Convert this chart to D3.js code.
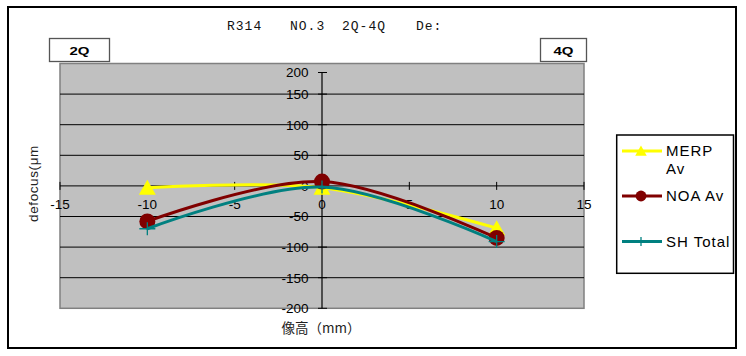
<!DOCTYPE html>
<html>
<head>
<meta charset="utf-8">
<script src="https://cdn.jsdelivr.net/npm/d3@7"></script>
<style>
  html, body { margin: 0; padding: 0; background: #fff; }
  svg { display: block; }
</style>
</head>
<body>
<svg id="chart" width="746" height="356"></svg>
<script>
// ---- data ----
const xValues = [-10, 0, 10];
const merpAv = [-3, -3, -69];
const noaAv = [-58, 7, -85];
const shTotal = [-70, -2, -91];
const seriesNames = ["MERP Av", "NOA Av", "SH Total"];
const xTicks = [-15, -10, -5, 0, 5, 10, 15];
const yTicks = [200, 150, 100, 50, 0, -50, -100, -150, -200];
const titleParts = ["R314", "NO.3", "2Q-4Q", "De:"];
const quadrantLabels = ["2Q", "4Q"];

const svg = d3.select("#chart");
const font = "'Liberation Sans', Arial, sans-serif";

// outer border
svg.append("rect").attr("x", 8).attr("y", 7).attr("width", 728).attr("height", 341)
  .attr("fill", "#fff").attr("stroke", "#000").attr("stroke-width", 2);

const x = d3.scaleLinear().domain([-15, 15]).range([60, 584]);
const y = d3.scaleLinear().domain([-200, 200]).range([308.3, 63.5]);
const x0 = x(0), y0 = y(0);
const topShift = 9; // top tick of the value axis sits a little below the plot top

// plot area
svg.append("rect").attr("x", x(-15)).attr("y", y(200)).attr("width", x(15) - x(-15))
  .attr("height", y(-200) - y(200)).attr("fill", "#c0c0c0").attr("stroke", "#808080").attr("stroke-width", 1.5);

const tickY = v => v === 200 ? y(v) + topShift : y(v);

// y tick labels (under gridlines)
svg.append("g").selectAll("text").data(yTicks).join("text")
  .attr("x", x0 - 13.5).attr("y", d => tickY(d) + 4.8)
  .attr("text-anchor", "end").attr("font-family", font).attr("font-size", 13.5)
  .attr("fill", "#000").text(d => d);

// gridlines
svg.append("g").selectAll("line").data(yTicks.filter(v => v !== 200 && v !== -200 && v !== 0)).join("line")
  .attr("x1", x(-15)).attr("x2", x(15)).attr("y1", d => y(d)).attr("y2", d => y(d))
  .attr("stroke", "#000").attr("stroke-width", 1);

// x axis line at y=0
svg.append("line").attr("x1", x(-15)).attr("x2", x(15)).attr("y1", y0).attr("y2", y0)
  .attr("stroke", "#000").attr("stroke-width", 1);
svg.append("g").selectAll("line").data(xTicks).join("line")
  .attr("x1", d => x(d)).attr("x2", d => x(d)).attr("y1", y0 - 4).attr("y2", y0 + 4)
  .attr("stroke", "#000").attr("stroke-width", 1);

// y axis line at x=0
svg.append("line").attr("x1", x0).attr("x2", x0).attr("y1", tickY(200)).attr("y2", y(-200))
  .attr("stroke", "#000").attr("stroke-width", 1.2);
svg.append("g").selectAll("line").data(yTicks).join("line")
  .attr("x1", x0 - 4).attr("x2", x0 + 5).attr("y1", d => tickY(d)).attr("y2", d => tickY(d))
  .attr("stroke", "#000").attr("stroke-width", 1);

// x tick labels
svg.append("g").selectAll("text").data(xTicks).join("text")
  .attr("x", d => x(d)).attr("y", y0 + 23)
  .attr("text-anchor", "middle").attr("font-family", font).attr("font-size", 13.5)
  .attr("fill", "#000").text(d => d);

// series
const series = [
  { name: seriesNames[0], values: merpAv, color: "#ffff00", marker: "triangle" },
  { name: seriesNames[1], values: noaAv, color: "#800000", marker: "circle" },
  { name: seriesNames[2], values: shTotal, color: "#008080", marker: "plus" }
];
const line = d3.line().x(d => x(d[0])).y(d => y(d[1])).curve(d3.curveCardinal.tension(0));

function drawMarker(g, type, cx, cy, color, s) {
  if (type === "triangle") {
    g.append("path").attr("d", `M${cx},${cy - 8 * s}L${cx + 8.5 * s},${cy + 7 * s}L${cx - 8.5 * s},${cy + 7 * s}Z`)
      .attr("fill", color);
  } else if (type === "circle") {
    g.append("circle").attr("cx", cx).attr("cy", cy).attr("r", 8 * s).attr("fill", color);
  } else {
    g.append("path").attr("d", `M${cx - 8 * s},${cy}H${cx + 8 * s}M${cx},${cy - 6.5 * s}V${cy + 6.5 * s}`)
      .attr("stroke", color).attr("stroke-width", 1.3).attr("fill", "none");
  }
}

series.forEach(s => {
  const pts = xValues.map((xv, i) => [xv, s.values[i]]);
  const g = svg.append("g");
  g.append("path").attr("d", line(pts)).attr("fill", "none").attr("stroke", s.color).attr("stroke-width", 3);
  pts.forEach(p => drawMarker(g, s.marker, x(p[0]), y(p[1]), s.color, 1));
});

// title
const titleX = [227, 290, 342, 416];
svg.append("g").selectAll("text").data(titleParts).join("text")
  .attr("x", (d, i) => titleX[i]).attr("y", 29.5)
  .attr("font-family", "'Liberation Mono', 'DejaVu Sans Mono', monospace").attr("font-size", 13)
  .attr("letter-spacing", 1).attr("fill", "#111").text(d => d);

// quadrant boxes
const boxes = [{ x: 49.5, w: 60 }, { x: 540.5, w: 46 }];
boxes.forEach((b, i) => {
  svg.append("rect").attr("x", b.x).attr("y", 38.5).attr("width", b.w).attr("height", 23)
    .attr("fill", "#fff").attr("stroke", "#555").attr("stroke-width", 1.3);
  svg.append("text").attr("x", b.x + b.w / 2).attr("y", 55.3).attr("text-anchor", "middle")
    .attr("font-family", font).attr("font-weight", 900).attr("font-size", 10.5)
    .attr("textLength", 20).attr("lengthAdjust", "spacingAndGlyphs")
    .attr("fill", "#000").text(quadrantLabels[i]);
});

// axis titles
svg.append("text").attr("transform", "translate(38,183.5) rotate(-90)").attr("text-anchor", "middle")
  .attr("font-family", font).attr("font-size", 13.5).attr("letter-spacing", 0.6).attr("fill", "#222")
  .text("defocus(μm");
svg.append("text").attr("x", 321).attr("y", 333).attr("text-anchor", "middle")
  .attr("font-family", "'Noto Sans CJK JP', sans-serif").attr("font-size", 13.5).attr("fill", "#222")
  .text("像高（mm）");

// legend
svg.append("rect").attr("x", 616.7).attr("y", 135).attr("width", 116.8).attr("height", 138.3)
  .attr("fill", "#fff").attr("stroke", "#000").attr("stroke-width", 1.5);
const legendY = [151, 196, 241.5];
series.forEach((s, i) => {
  const g = svg.append("g");
  g.append("line").attr("x1", 622).attr("x2", 662).attr("y1", legendY[i]).attr("y2", legendY[i])
    .attr("stroke", s.color).attr("stroke-width", 3);
  drawMarker(g, s.marker, 641, legendY[i], s.color, 0.68);
  const t = g.append("text").attr("x", 666).attr("y", legendY[i] + 5)
    .attr("font-family", font).attr("font-size", 15).attr("letter-spacing", 1).attr("fill", "#000");
  if (i === 0) {
    const parts = s.name.split(" ");
    t.append("tspan").attr("x", 666).text(parts[0]);
    t.append("tspan").attr("x", 666).attr("dy", 17.6).text(parts[1]);
  } else {
    t.text(s.name);
  }
});
</script>
</body>
</html>
